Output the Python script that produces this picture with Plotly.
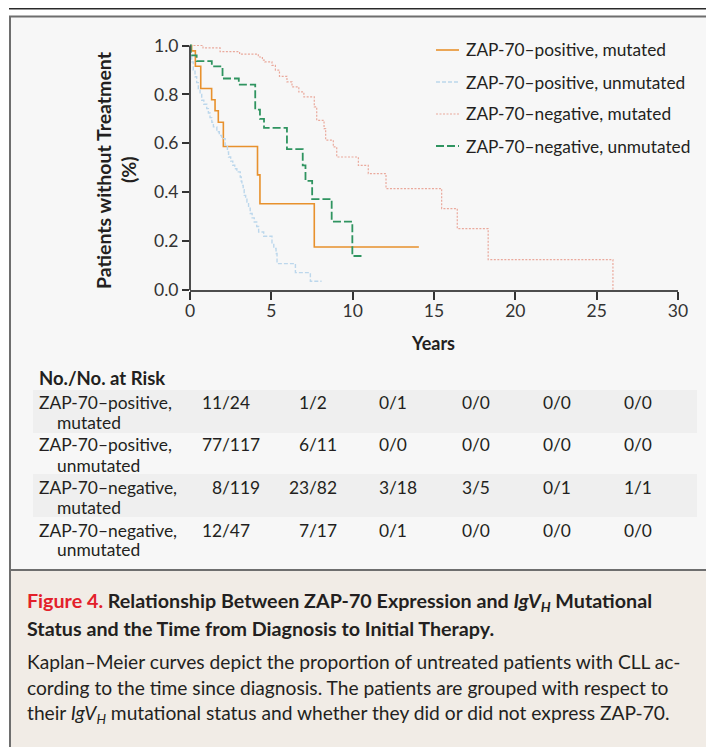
import plotly.graph_objects as go

# ---------------- data ----------------
series_names = [
    "ZAP-70\u2013positive, mutated",
    "ZAP-70\u2013positive, unmutated",
    "ZAP-70\u2013negative, mutated",
    "ZAP-70\u2013negative, unmutated",
]

pos_mut_years = [0, 0.10, 0.33, 0.66, 1.33, 1.54, 1.74, 2.05, 4.15, 4.30, 7.64, 14.07]
pos_mut_surv = [1.0, 0.978, 0.915, 0.824, 0.778, 0.733, 0.686, 0.587, 0.471, 0.353, 0.176, 0.176]

pos_unmut_years = [0, 0.03, 0.10, 0.20, 0.31, 0.41, 0.51, 0.62, 0.72, 0.85, 1.03, 1.13, 1.23,
                   1.34, 1.44, 1.65, 1.80, 1.95, 2.16, 2.30, 2.37, 2.50, 2.63, 2.75, 2.88,
                   3.09, 3.15, 3.19, 3.27, 3.33, 3.42, 3.50, 3.60, 3.70, 3.82, 3.95, 4.10,
                   4.22, 4.53, 5.04, 5.15, 5.29, 5.35, 6.48, 7.40, 8.09]
pos_unmut_surv = [1.0, 0.96, 0.933, 0.90, 0.872, 0.848, 0.824, 0.80, 0.776, 0.76, 0.742, 0.724,
                  0.705, 0.686, 0.667, 0.647, 0.632, 0.619, 0.592, 0.565, 0.544, 0.527, 0.510,
                  0.496, 0.483, 0.462, 0.445, 0.428, 0.41, 0.387, 0.375, 0.360, 0.335, 0.313,
                  0.295, 0.278, 0.26, 0.237, 0.220, 0.190, 0.17, 0.149, 0.108, 0.071, 0.036, 0.036]

neg_mut_years = [0, 0.8, 1.85, 3.05, 4.2, 4.45, 4.6, 5.04, 5.25, 5.5, 5.96, 6.27, 6.69, 7.0,
                 7.64, 7.79, 8.24, 8.34, 8.81, 9.02, 10.35, 10.96, 12.05, 15.47, 16.43, 18.33, 26.0]
neg_mut_surv = [1.0, 0.99, 0.975, 0.965, 0.953, 0.94, 0.933, 0.919, 0.899, 0.874, 0.851, 0.831,
                0.810, 0.790, 0.749, 0.694, 0.660, 0.613, 0.585, 0.544, 0.510, 0.476, 0.415,
                0.333, 0.251, 0.124, 0.0]

neg_unmut_years = [0, 0.05, 0.41, 1.34, 2.0, 3.0, 4.01, 4.3, 4.55, 5.96, 6.93, 7.1, 7.51, 8.71, 9.98, 10.59]
neg_unmut_surv = [1.0, 0.960, 0.936, 0.915, 0.865, 0.840, 0.738, 0.70, 0.663, 0.576, 0.510, 0.446,
                  0.372, 0.280, 0.139, 0.139]

x_ticks = [0, 5, 10, 15, 20, 25, 30]
y_ticks = [0.0, 0.2, 0.4, 0.6, 0.8, 1.0]

risk_header = "No./No. at Risk"
risk_labels = [
    ("ZAP-70\u2013positive,", "mutated"),
    ("ZAP-70\u2013positive,", "unmutated"),
    ("ZAP-70\u2013negative,", "mutated"),
    ("ZAP-70\u2013negative,", "unmutated"),
]
risk_pos_mut = ["11/24", "1/2", "0/1", "0/0", "0/0", "0/0"]
risk_pos_unmut = ["77/117", "6/11", "0/0", "0/0", "0/0", "0/0"]
risk_neg_mut = ["8/119", "23/82", "3/18", "3/5", "0/1", "1/1"]
risk_neg_unmut = ["12/47", "7/17", "0/1", "0/0", "0/0", "0/0"]

caption_title_1 = ("<span style='color:#e3202a'>Figure 4.</span> Relationship Between ZAP-70 "
                   "Expression and <i>IgV<sub>H</sub></i> Mutational")
caption_title_2 = "Status and the Time from Diagnosis to Initial Therapy."
caption_body = [
    "Kaplan\u2013Meier curves depict the proportion of untreated patients with CLL ac-",
    "cording to the time since diagnosis. The patients are grouped with respect to",
    "their <i>IgV<sub>H</sub></i> mutational status and whether they did or did not express ZAP-70.",
]

# ---------------- styles ----------------
colors = ["#e8912d", "#bcd7ec", "#eaa99c", "#2f9460"]
dashes = ["solid", "4px,2px", "2px,1.5px", "8px,3px"]
widths = [1.6, 1.4, 1.2, 1.8]
FONT = "Lato"
TXT = "#231f20"

# page body has an 8px margin; coordinates below are in window pixels
O = 8
W, H = 714 - O, 747 - O
L, R, T = 190 - O, 36, 42 - O
B = H - (290 - O)
PW = W - L - R
PH = H - T - B
Y_TOP = (290 - 42) / 244.5


def px(x):
    return (x - O - L) / PW


def py(y):
    return (H - B - (y - O)) / PH


fig = go.Figure()
all_x = [pos_mut_years, pos_unmut_years, neg_mut_years, neg_unmut_years]
all_y = [pos_mut_surv, pos_unmut_surv, neg_mut_surv, neg_unmut_surv]
for i in range(4):
    fig.add_trace(go.Scatter(
        x=all_x[i], y=all_y[i], mode="lines", name=series_names[i],
        line=dict(color=colors[i], dash=dashes[i], width=widths[i], shape="hv"),
        showlegend=False, hoverinfo="skip"))

shapes = []
shapes.append(dict(type="rect", xref="paper", yref="paper", x0=px(10), x1=px(716), y0=py(17), y1=py(570),
                   fillcolor="#f7f7f7", line=dict(width=0), layer="below"))
shapes.append(dict(type="rect", xref="paper", yref="paper", x0=px(10), x1=px(716), y0=py(570), y1=py(749),
                   fillcolor="#f1ece6", line=dict(width=0), layer="below"))
shapes.append(dict(type="line", xref="paper", yref="paper", x0=px(9), x1=px(716), y0=py(8.5), y1=py(8.5),
                   line=dict(color="#2a2a2a", width=2)))
shapes.append(dict(type="line", xref="paper", yref="paper", x0=px(9), x1=px(716), y0=py(16.5), y1=py(16.5),
                   line=dict(color="#6e6e6e", width=2)))
shapes.append(dict(type="line", xref="paper", yref="paper", x0=px(10), x1=px(10), y0=py(16), y1=py(749),
                   line=dict(color="#6e6e6e", width=2)))
shapes.append(dict(type="line", xref="paper", yref="paper", x0=px(10), x1=px(716), y0=py(570), y1=py(570),
                   line=dict(color="#6e6e6e", width=2)))
for (y0, y1) in [(390, 433), (474, 517)]:
    shapes.append(dict(type="rect", xref="paper", yref="paper", x0=px(33), x1=px(697), y0=py(y0), y1=py(y1),
                       fillcolor="#efefef", line=dict(width=0), layer="below"))
shapes.append(dict(type="line", xref="paper", yref="paper", x0=0, x1=0, y0=0, y1=1 / Y_TOP,
                   line=dict(color="#4d4d4d", width=2)))
legend_y = [50, 82, 114, 146]
for i in range(4):
    shapes.append(dict(type="line", xref="paper", yref="paper", x0=px(436), x1=px(459),
                       y0=py(legend_y[i]), y1=py(legend_y[i]),
                       line=dict(color=colors[i], dash=dashes[i], width=widths[i])))

ann = []


def text(x, y, s, size=17, bold=False, xanchor="left", color=TXT, angle=0):
    ann.append(dict(xref="paper", yref="paper", x=px(x), y=py(y), text=("<b>%s</b>" % s) if bold else s,
                    showarrow=False, xanchor=xanchor, yanchor="middle", textangle=angle,
                    borderpad=0, borderwidth=0,
                    font=dict(family=FONT, size=size, color=color)))


for i in range(4):
    text(466, legend_y[i], series_names[i], size=17.3)

text(103, 170, "Patients without Treatment", size=19.5, bold=True, xanchor="center", angle=-90)
text(128, 170, "(%)", size=19.5, bold=True, xanchor="center", angle=-90)
text(433, 343, "Years", size=18, bold=True, xanchor="center")

text(39, 378, risk_header, size=18.5, bold=True)
row_y = [(402, 422), (444, 465), (487, 507), (530, 549)]
slash_x = [225, 312, 392, 475, 556, 637]
risk_rows = [risk_pos_mut, risk_pos_unmut, risk_neg_mut, risk_neg_unmut]
for r in range(4):
    text(39, row_y[r][0], risk_labels[r][0], size=17.4)
    text(57, row_y[r][1], risk_labels[r][1], size=17.4)
    for c, val in enumerate(risk_rows[r]):
        num, den = val.split("/")
        text(slash_x[c] - 3.5, row_y[r][0], num, size=17.4, xanchor="right")
        text(slash_x[c] - 3.5, row_y[r][0], "/" + den, size=17.4, xanchor="left")

text(27, 602, "<b>" + caption_title_1 + "</b>", size=19.7)
text(27, 628, caption_title_2, size=19.7, bold=True)
for k, line in enumerate(caption_body):
    text(27, 661 + k * 26.5, line, size=19.2)

fig.update_layout(
    width=W, height=H,
    margin=dict(l=L, r=R, t=T, b=B),
    paper_bgcolor="#ffffff", plot_bgcolor="rgba(0,0,0,0)",
    showlegend=False,
    shapes=shapes, annotations=ann,
    xaxis=dict(range=[0, 30], tickvals=x_ticks, ticktext=[str(v) for v in x_ticks],
               showgrid=False, zeroline=False, showline=True, linecolor="#4d4d4d", linewidth=2,
               ticks="outside", ticklen=8, tickwidth=1.5, tickcolor="#333333",
               ticklabelstandoff=-4,
               tickfont=dict(family=FONT, size=17.5, color="#333333"), fixedrange=True),
    yaxis=dict(range=[0, Y_TOP], tickvals=y_ticks, ticktext=["%.1f" % v for v in y_ticks],
               showgrid=False, zeroline=False, showline=False,
               ticks="outside", ticklen=7, tickwidth=1.5, tickcolor="#333333",
               tickfont=dict(family=FONT, size=17.5, color="#333333"), fixedrange=True),
    font=dict(family=FONT, color=TXT),
)

fig.write_html("out.html")
